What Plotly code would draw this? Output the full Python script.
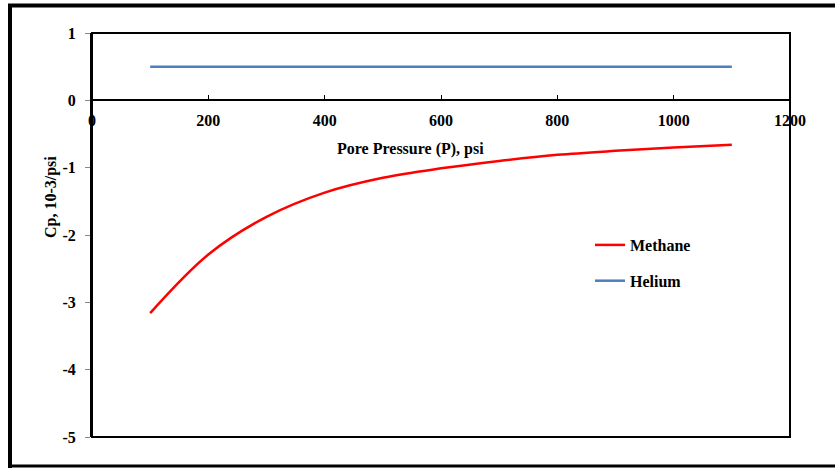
import plotly.graph_objects as go

# Pore pressure (psi) and pore compressibility Cp (10^-3 / psi)
pressure = [100, 200, 300, 400, 500, 600, 700, 800, 900, 1000, 1100]
cp_methane = [-3.16, -2.29, -1.73, -1.37, -1.15, -1.01, -0.90, -0.81, -0.75, -0.70, -0.66]
cp_helium = [0.5, 0.5, 0.5, 0.5, 0.5, 0.5, 0.5, 0.5, 0.5, 0.5, 0.5]

x_ticks = [0, 200, 400, 600, 800, 1000, 1200]
y_ticks = [1, 0, -1, -2, -3, -4, -5]

W, H = 835, 468
L, R, T, B = 92, 45, 33, 31
pw, ph = W - L - R, H - T - B

def px_x(p):
    return (p - L) / pw

def px_y(p):
    return (H - B - p) / ph

serif = dict(family="Liberation Serif", size=16, color="black", weight="bold")

fig = go.Figure()
fig.add_trace(go.Scatter(x=pressure, y=cp_methane, mode="lines", name="Methane",
                         line=dict(color="#ff0000", width=2.5, shape="spline", smoothing=1.0),
                         legendgroup="m"))
fig.add_trace(go.Scatter(x=pressure, y=cp_helium, mode="lines", name="Helium",
                         line=dict(color="#4a7fc0", width=2.5), legendgroup="h"))

y_lo, y_hi = -5, 1
zero_pos = (0 - y_lo) / (y_hi - y_lo)

fig.update_layout(
    width=W, height=H,
    margin=dict(l=L, r=R, t=T, b=B),
    paper_bgcolor="white", plot_bgcolor="white",
    font=serif,
    showlegend=True,
    legend=dict(x=px_x(590), y=px_y(228), xanchor="left", yanchor="top",
                bgcolor="rgba(0,0,0,0)", font=serif,
                tracegroupgap=12, itemwidth=30),
    xaxis=dict(range=[0, 1200], tickvals=x_ticks, ticktext=[str(v) for v in x_ticks],
               showgrid=False, zeroline=False, showline=True, linecolor="black", linewidth=2,
               anchor="free", position=zero_pos, ticks="inside", ticklen=4, tickcolor="black",
               tickfont=serif, ticklabelstandoff=5),
    yaxis=dict(range=[y_lo, y_hi], tickvals=y_ticks, ticktext=[str(v) for v in y_ticks],
               showgrid=False, zeroline=False, showline=True, linecolor="black", linewidth=2,
               ticks="outside", ticklen=5, tickcolor="#888888", tickfont=serif,
               ticklabelstandoff=6),
)

# plot frame
fig.add_shape(type="rect", xref="paper", yref="paper", x0=0, y0=0, x1=1, y1=1,
              line=dict(color="black", width=2), layer="above")

# outer figure frame
frame = dict(color="black", width=4)
fig.add_shape(type="line", xref="paper", yref="paper",
              x0=px_x(10), x1=px_x(10), y0=px_y(4), y1=px_y(468), line=frame, layer="above")
fig.add_shape(type="line", xref="paper", yref="paper",
              x0=px_x(8), x1=px_x(835), y0=px_y(5.5), y1=px_y(5.5), line=frame, layer="above")
fig.add_shape(type="line", xref="paper", yref="paper",
              x0=px_x(8), x1=px_x(835), y0=px_y(466), y1=px_y(466),
              line=dict(color="black", width=3), layer="above")

fig.add_annotation(text="Pore Pressure (P), psi", xref="paper", yref="paper",
                   x=px_x(410), y=px_y(138), showarrow=False, font=serif)
fig.add_annotation(text="Cp, 10-3/psi", xref="paper", yref="paper",
                   x=px_x(40), y=px_y(197), showarrow=False, textangle=-90, font=serif)

fig.write_html("out.html")
